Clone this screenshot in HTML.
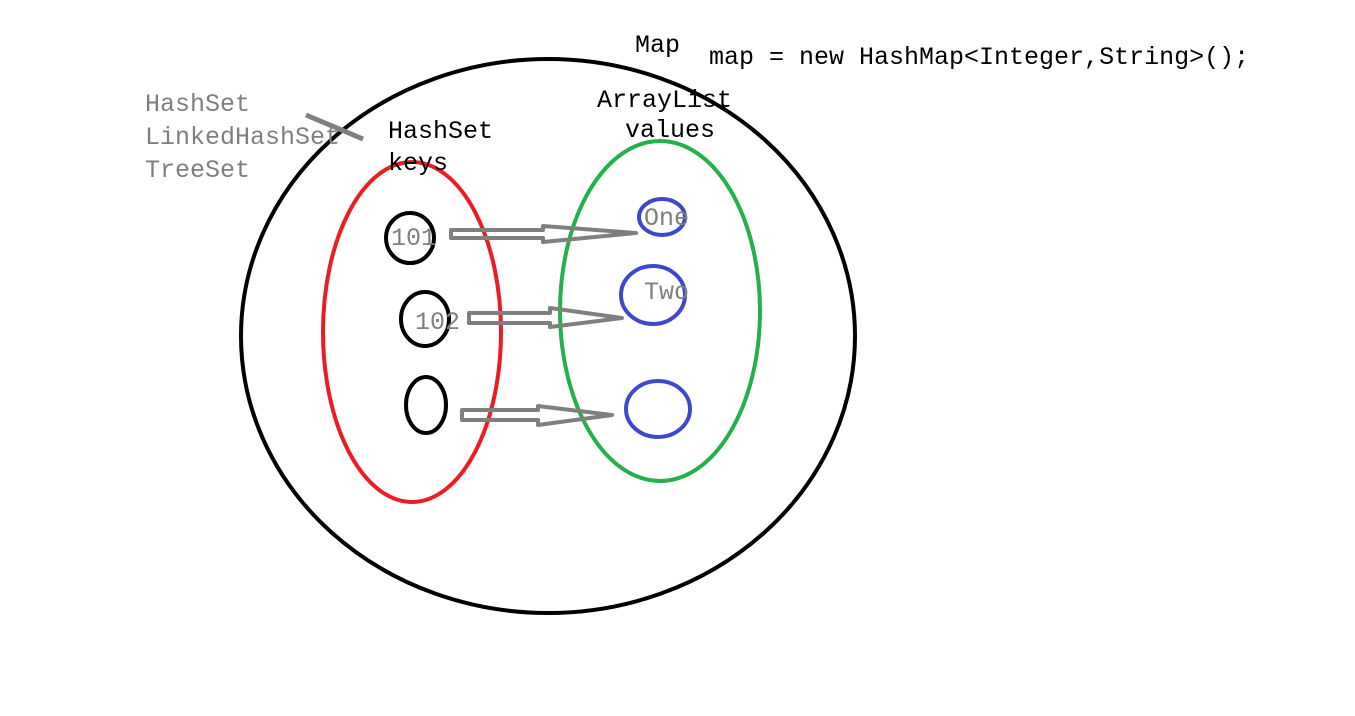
<!DOCTYPE html>
<html><head><style>body{margin:0;background:#fff}svg{display:block}text{font-family:"Liberation Mono",monospace;font-size:25px}</style></head>
<body>
<svg width="1355" height="716" viewBox="0 0 1355 716">
<rect width="1355" height="716" fill="#fff"/>
<ellipse cx="548" cy="336" rx="307" ry="277" fill="none" stroke="#000" stroke-width="4"/>
<ellipse cx="412" cy="332" rx="89" ry="170" fill="none" stroke="#ed1c24" stroke-width="4"/>
<ellipse cx="660" cy="311" rx="100" ry="170" fill="none" stroke="#22b14c" stroke-width="4"/>
<ellipse cx="410" cy="238" rx="24" ry="25" fill="none" stroke="#000" stroke-width="4"/>
<ellipse cx="425" cy="319" rx="24" ry="27" fill="none" stroke="#000" stroke-width="4"/>
<ellipse cx="426" cy="405" rx="20" ry="28" fill="none" stroke="#000" stroke-width="4"/>
<ellipse cx="662" cy="217" rx="23" ry="18" fill="none" stroke="#3f48cc" stroke-width="4"/>
<ellipse cx="653" cy="295" rx="32" ry="29" fill="none" stroke="#3f48cc" stroke-width="4"/>
<ellipse cx="658" cy="409" rx="32" ry="28" fill="none" stroke="#3f48cc" stroke-width="4"/>
<g fill="none" stroke="#7f7f7f" stroke-width="4" stroke-linejoin="round">
<polygon points="451,230 543,230 543,226 636,233 543,242 543,238 451,238"/>
<polygon points="469,313 550,313 550,308 622,318 550,327 550,323 469,323"/>
<polygon points="462,410 538,410 538,406 612,415 538,425 538,420 462,420"/>
<line x1="306" y1="115" x2="363" y2="139" stroke-width="5"/>
</g>
<g fill="#7f7f7f">
<text x="145" y="111">HashSet</text>
<text x="145" y="144">LinkedHashSet</text>
<text x="145" y="177">TreeSet</text>
<text x="391" y="245">101</text>
<text x="415" y="329">102</text>
<text x="644" y="225">One</text>
<text x="644" y="299">Two</text>
</g>
<g fill="#000">
<text x="635" y="52">Map</text>
<text x="709" y="64">map = new HashMap&lt;Integer,String&gt;();</text>
<text x="597" y="107">ArrayList</text>
<text x="625" y="137">values</text>
<text x="388" y="138">HashSet</text>
<text x="388" y="170">keys</text>
</g>
</svg>
</body></html>
